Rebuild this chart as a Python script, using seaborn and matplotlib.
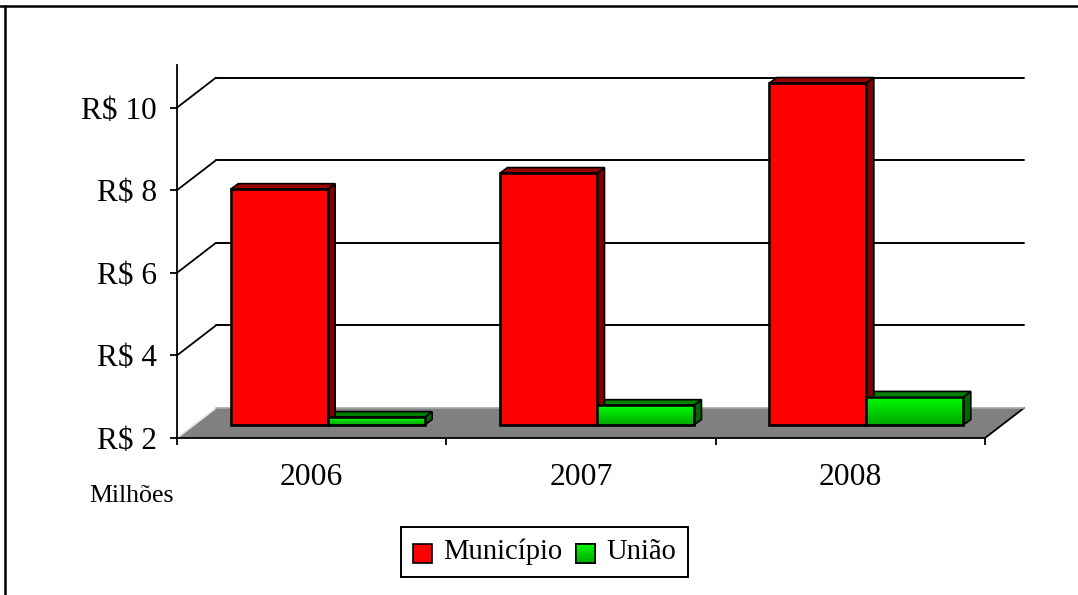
import numpy as np
import pandas as pd
import matplotlib
matplotlib.use('Agg')
import matplotlib.pyplot as plt
from matplotlib.colors import LinearSegmentedColormap
from matplotlib.lines import Line2D
from matplotlib.patches import Patch, Polygon
from matplotlib.transforms import offset_copy
import seaborn as sns

# --- Dados ---
anos = ['2006', '2007', '2008']
municipio = [7.71, 8.1, 10.28]
uniao = [2.19, 2.48, 2.68]
ticks_y = [2, 4, 6, 8, 10]
labels_y = ['R$ 2', 'R$ 4', 'R$ 6', 'R$ 8', 'R$ 10']

# --- Layout em pixels ---
W, H = 1078, 595
X0, X1, Y0, YTOP = 177, 985, 438, 65
PX_POR_UNIDADE = 41.3
WALL_DX, WALL_DY = 39, 30    # profundidade da parede do fundo
BAR_DX, BAR_DY = 16, 13      # plano frontal das barras
DEPTH_DX, DEPTH_DY = 7.5, 5.5  # profundidade de cada barra
YMIN = ticks_y[0]
YMAX = YMIN + (Y0 - YTOP) / PX_POR_UNIDADE

sns.set_theme(style='white')
plt.rcParams['font.family'] = ['Liberation Serif', 'DejaVu Serif']

df = pd.DataFrame({
    'ano': anos * 2,
    'valor': municipio + uniao,
    'fonte': ['Município'] * 3 + ['União'] * 3,
})

fig = plt.figure(figsize=(W / 100, H / 100), dpi=100, facecolor='white')


def novo_ax(dx=0, dy=0, z=1):
    a = fig.add_axes([(X0 + dx) / W, (H - Y0 + dy) / H, (X1 - X0) / W, (Y0 - YTOP) / H], zorder=z)
    a.set_xlim(-0.5, 2.5)
    a.set_ylim(YMIN, YMAX)
    return a


# Moldura: só topo e esquerda
fig.add_artist(Line2D([0, 1], [1 - 5.5 / H] * 2, color='black', lw=1.8))
fig.add_artist(Line2D([5 / W] * 2, [0, 1 - 5.5 / H], color='black', lw=1.8))

# Eixo frontal
ax = novo_ax(z=1)
ax.patch.set_alpha(0)
sns.despine(ax=ax)
for s in ['left', 'bottom']:
    ax.spines[s].set_color('black')
    ax.spines[s].set_linewidth(1.3)
ax.set_yticks(ticks_y)
ax.set_yticklabels(labels_y, fontsize=22.5, color='black')
ax.set_xticks([-0.5, 0.5, 1.5, 2.5])
ax.set_xticklabels([])
ax.tick_params(axis='both', length=5, width=1.3, color='black', left=True, bottom=True)
ax.tick_params(axis='y', pad=9.5)

# Chão e paredes (deslocados a partir das escalas do eixo)
fundo = offset_copy(ax.transData, fig, x=WALL_DX, y=WALL_DY, units='dots')
pts = ax.transData.transform([(-0.5, YMIN), (2.5, YMIN)])
prof = np.array([WALL_DX, WALL_DY])
ax.add_patch(Polygon([pts[0], pts[1], pts[1] + prof, pts[0] + prof], closed=True, transform=None,
                     facecolor='#808080', edgecolor='none', zorder=1, clip_on=False))
ax.add_line(Line2D([pts[1][0], pts[1][0] + WALL_DX], [pts[1][1], pts[1][1] + WALL_DY],
                   transform=None, color='black', lw=1.3, zorder=2, clip_on=False))
ax.add_line(Line2D([pts[0][0], pts[0][0] + WALL_DX], [pts[0][1], pts[0][1] + WALL_DY],
                   transform=None, color='#e6e6e6', lw=1.3, zorder=2, clip_on=False))
ax.plot([-0.5, 2.5], [YMIN, YMIN], transform=fundo, color='#a8a8a8', lw=1.2, zorder=2, clip_on=False)
for t in ticks_y[1:]:
    p = ax.transData.transform((-0.5, t))
    ax.add_line(Line2D([p[0], p[0] + WALL_DX], [p[1], p[1] + WALL_DY],
                       transform=None, color='black', lw=1.3, zorder=2, clip_on=False))
    ax.plot([-0.5, 2.5], [t, t], transform=fundo, color='black', lw=1.4, zorder=2, clip_on=False)
ax.set_xlim(-0.5, 2.5)
ax.set_ylim(YMIN, YMAX)

# Rótulos do eixo x
for i, ano in enumerate(anos):
    ax.text(i, 1.05, ano, ha='center', va='center', fontsize=22.8, color='black', clip_on=False)
fig.text(89 / W, 1 - 502 / H, 'Milhões', fontsize=18.6, color='black', ha='left', va='baseline')

# Barras
ax_bars = novo_ax(BAR_DX, BAR_DY, z=3)
ax_bars.patch.set_alpha(0)
ax_bars.axis('off')
sns.barplot(data=df, x='ano', y='valor', hue='fonte', hue_order=['Município', 'União'],
            palette=['#ff0000', '#00d000'], width=0.72, gap=0, saturation=1, legend=False,
            edgecolor='black', linewidth=1.9, ax=ax_bars, zorder=5)
ax_bars.set_xlim(-0.5, 2.5)
ax_bars.set_ylim(YMIN, YMAX)

gradiente = LinearSegmentedColormap.from_list('verde', ['#00a800', '#00ff00'])
d = np.array([DEPTH_DX, DEPTH_DY])
barras = [b for b in ax_bars.patches if b.get_height() > 0]
# o eixo começa em R$ 2: a barra parte daí, não do zero
for b in barras:
    topo_v = b.get_height()
    b.set_y(YMIN)
    b.set_height(topo_v - YMIN)
    b.set_clip_on(False)
for b in sorted(barras, key=lambda r: -r.get_x()):
    x0, y0, x1, y1 = b.get_x(), b.get_y(), b.get_x() + b.get_width(), b.get_y() + b.get_height()
    a, c = ax_bars.transData.transform([(x0, y0), (x1, y1)])
    vermelha = b.get_facecolor()[0] > 0.5
    cor_lado, cor_topo = ('#7f0000', '#990000') if vermelha else ('#006800', '#008000')
    ax_bars.add_patch(Polygon([(c[0], a[1]), c, c + d, np.array((c[0], a[1])) + d], transform=None,
                              facecolor=cor_lado, edgecolor='black', lw=1.2, zorder=3, clip_on=False))
    ax_bars.add_patch(Polygon([(a[0], c[1]), c, c + d, np.array((a[0], c[1])) + d], transform=None,
                              facecolor=cor_topo, edgecolor='black', lw=1.2, zorder=3, clip_on=False))
    if not vermelha:
        ax_bars.imshow(np.linspace(1, 0, 32).reshape(-1, 1), extent=(x0, x1, y0, y1), cmap=gradiente,
                       aspect='auto', zorder=5.5)
        b.set_facecolor('none')
        b.set_zorder(6)
ax_bars.set_xlim(-0.5, 2.5)
ax_bars.set_ylim(YMIN, YMAX)

# Legenda
handles = [Patch(facecolor='#ff0000', edgecolor='black', lw=1.2), Patch(facecolor='#00d000', edgecolor='black', lw=1.2)]
leg = fig.legend(handles, ['Município', 'União'], loc='center', bbox_to_anchor=(544.5 / W, 1 - 552 / H),
                 ncol=2, fontsize=20.6, frameon=True, fancybox=False, framealpha=1, edgecolor='black',
                 handlelength=0.65, handleheight=0.65, handletextpad=0.39, columnspacing=0.5,
                 borderpad=0.42, borderaxespad=0, labelcolor='black')
leg.get_frame().set_linewidth(1.4)
# caixinhas um pouco mais abaixo, alinhadas ao texto
for h in leg.legend_handles:
    h.set_y(h.get_y() - 3)

# Gradiente da caixinha verde da legenda
fig.canvas.draw()
caixa = leg.legend_handles[1].get_window_extent().transformed(fig.transFigure.inverted())
ax_leg = fig.add_axes(caixa.bounds, zorder=10)
ax_leg.imshow(np.linspace(1, 0, 16).reshape(-1, 1), cmap=gradiente, aspect='auto')
ax_leg.set_xticks([])
ax_leg.set_yticks([])
for s in ax_leg.spines.values():
    s.set_color('black')
    s.set_linewidth(1.2)

fig.savefig('out.png', dpi=100)
